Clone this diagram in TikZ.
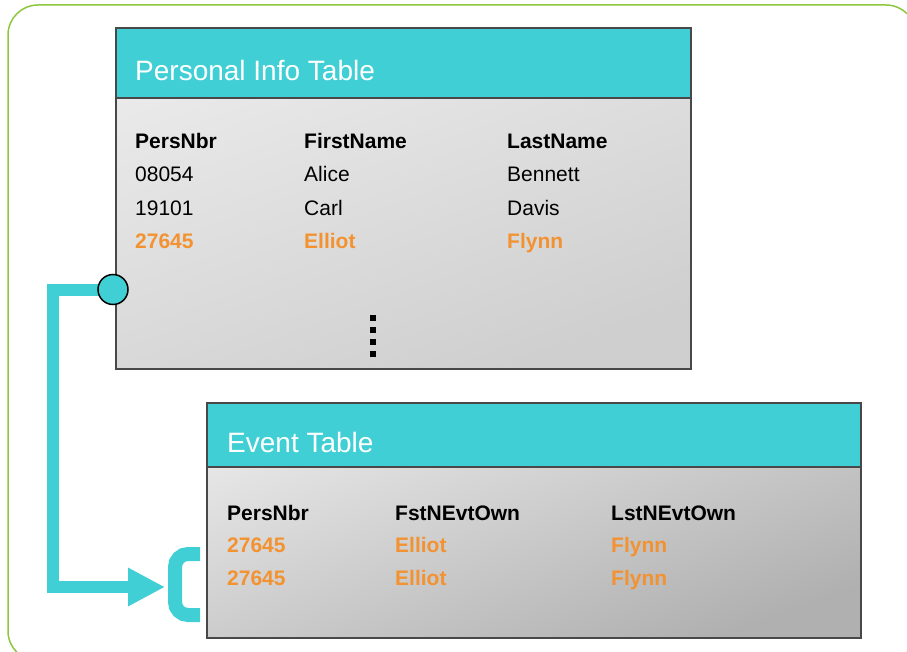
\documentclass[tikz,border=0pt]{standalone}
\usepackage{fontspec}
\setmainfont{Liberation Sans}
\usetikzlibrary{arrows.meta}

\definecolor{tealhead}{RGB}{65,207,214}
\definecolor{rowhl}{RGB}{243,146,48}
\definecolor{framegreen}{RGB}{141,198,63}
\definecolor{edge}{RGB}{72,72,72}

\tikzset{
  tablebody/.style={draw=edge, line width=2pt, inner sep=0pt, anchor=north west},
  headcell/.style={fill=tealhead, draw=edge, line width=2pt, inner sep=0pt, anchor=north west},
  tabletitle/.style={font=\fontsize{28}{33}\selectfont, text=white, anchor=base west, inner sep=0pt},
  colhead/.style={font=\fontsize{21}{25}\selectfont\bfseries, anchor=base west, inner sep=0pt},
  cell/.style={font=\fontsize{21}{25}\selectfont, anchor=base west, inner sep=0pt},
  hlcell/.style={font=\fontsize{21}{25}\selectfont\bfseries, text=rowhl, anchor=base west, inner sep=0pt},
  link/.style={draw=tealhead, line width=12pt},
  keyport/.style={circle, fill=tealhead, draw=black, line width=1.5pt, minimum size=30pt, inner sep=0pt},
}

\begin{document}
\begin{tikzpicture}[x=1pt, y=-1pt]
\useasboundingbox (0,0) rectangle (907,652);

% outer rounded frame
\begin{scope}
  \clip (0,0) rectangle (907,652);
  \draw[framegreen, line width=1.5pt, rounded corners=30pt] (8,5) rectangle (916,661);
\end{scope}

% ---- Personal Info Table ----
\node[tablebody, minimum width=575pt, minimum height=341pt,
      top color=black!8, bottom color=black!19, shading angle=20] (pbody) at (115,27) {};
\node[headcell, minimum width=575pt, minimum height=70pt] (phead) at (115,27) {};
\node[tabletitle] (ptitle) at (135,81) {Personal Info Table};

\node[colhead] (pc1) at (135,148.5) {PersNbr};
\node[colhead] (pc2) at (304,148.5) {FirstName};
\node[colhead] (pc3) at (507,148.5) {LastName};

\node[cell] (p11) at (135,182) {08054};
\node[cell] (p12) at (304,182) {Alice};
\node[cell] (p13) at (507,182) {Bennett};

\node[cell] (p21) at (135,215.5) {19101};
\node[cell] (p22) at (304,215.5) {Carl};
\node[cell] (p23) at (507,215.5) {Davis};

\node[hlcell] (p31) at (135,249) {27645};
\node[hlcell] (p32) at (304,249) {Elliot};
\node[hlcell] (p33) at (507,249) {Flynn};

% continuation dots
\foreach \yy in {318,330,342,354}
  \fill[black] (370,\yy-3) rectangle (376,\yy+3);

% ---- Event Table ----
\node[tablebody, minimum width=654pt, minimum height=235pt,
      top color=black!9, bottom color=black!31, shading angle=20] (ebody) at (206,402) {};
\node[headcell, minimum width=654pt, minimum height=64pt] (ehead) at (206,402) {};
\node[tabletitle] (etitle) at (227,452) {Event Table};

\node[colhead] (ec1) at (227,520.5) {PersNbr};
\node[colhead] (ec2) at (395,520.5) {FstNEvtOwn};
\node[colhead] (ec3) at (611,520.5) {LstNEvtOwn};

\node[hlcell] (e11) at (227,552.5) {27645};
\node[hlcell] (e12) at (395,552.5) {Elliot};
\node[hlcell] (e13) at (611,552.5) {Flynn};

\node[hlcell] (e21) at (227,585) {27645};
\node[hlcell] (e22) at (395,585) {Elliot};
\node[hlcell] (e23) at (611,585) {Flynn};

% ---- key link ----
\coordinate (tip) at (165,587);
\coordinate (brtop) at (200,554);
\coordinate (brbot) at (200,615);

\draw[link, -{Triangle[length=37pt, width=36pt]}]
  (113,289.5) -- (53,289.5) -- (53,587) -- (tip);
\node[keyport] (port) at (113,289.5) {};

\draw[draw=tealhead, line width=14pt, rounded corners=13pt]
  (brtop) -- (175,554) -- (175,615) -- (brbot);

\end{tikzpicture}
\end{document}
